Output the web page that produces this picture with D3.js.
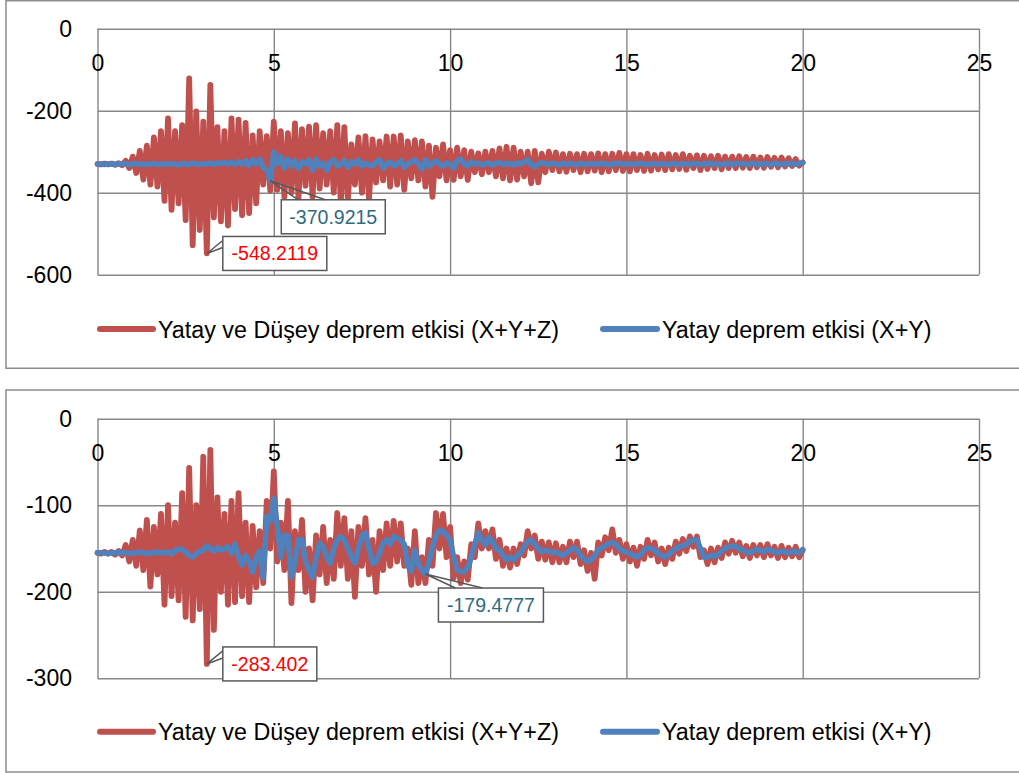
<!DOCTYPE html>
<html><head><meta charset="utf-8">
<script src="https://cdn.jsdelivr.net/npm/d3@7"></script>
<style>body{margin:0;background:#fff}svg{display:block}</style>
</head><body><svg id="c" width="1019" height="773"></svg>
<script>
// ---------- DATA ----------
const timeStep = 0.1; // seconds between samples
const xTicks = [0, 5, 10, 15, 20, 25];
const seriesNames = ["Yatay ve Düşey deprem etkisi (X+Y+Z)", "Yatay deprem etkisi (X+Y)"];
const topYTicks = [0, -200, -400, -600];
const bottomYTicks = [0, -100, -200, -300];

const topRed = [
-330,-331,-329,-331,-329,-332,-328,-333,-322,-340,
-312,-352,-298,-368,-285,-380,-265,-385,-250,-420,
-219,-442,-250,-426,-235,-467,-121,-528,-202,-491,
-227,-548.2119,-137,-460,-240,-470,-250,-480,-219,-440,
-222,-455,-230,-450,-260,-426,-250,-380,-262,-395,
-227,-393,-250,-410,-255,-400,-231,-413,-245,-383,
-239,-410,-235,-390,-255,-380,-250,-400,-235,-425,
-240,-420,-282,-380,-265,-400,-262,-417,-270,-375,
-275,-370,-263,-385,-263,-380,-260,-393,-275,-365,
-272,-370,-275,-385,-285,-410,-290,-360,-282,-370,
-296,-369,-290,-360,-296,-369,-300,-350,-304,-355,
-300,-350,-298,-360,-292,-365,-288,-370,-290,-368,
-300,-360,-300,-377,-298,-375,-305,-350,-300,-345,
-302,-348,-306,-349,-305,-345,-306,-350,-305,-348,
-306,-346,-304,-350,-306,-348,-305,-345,-303,-347,
-306,-348,-306,-345,-308,-347,-305,-346,-308,-343,
-307,-345,-306,-343,-308,-342,-306,-344,-310,-340,
-309,-345,-310,-342,-311,-340,-310,-343,-312,-340,
-312,-340,-311,-339,-313,-340,-312,-338,-314,-339,
-313,-337,-315,-338,-314,-336,-316,-335,-318,-334,
-326];

const topBlue = [
-330,-330,-331,-330,-330,-331,-330,-329,-330,-331,
-330,-329,-331,-330,-331,-330,-329,-331,-330,-330,
-331,-329,-330,-332,-329,-330,-331,-328,-330,-331,
-329,-330,-328,-331,-327,-329,-326,-330,-325,-331,
-324,-330,-322,-334,-320,-330,-318,-338,-345,-370.9215,
-300,-330,-312,-340,-318,-335,-322,-341,-325,-330,
-320,-345,-318,-335,-328,-345,-325,-320,-335,-330,
-322,-338,-325,-330,-320,-335,-328,-332,-335,-325,
-320,-340,-330,-325,-335,-330,-322,-338,-330,-325,
-320,-330,-342,-320,-335,-328,-322,-330,-335,-328,
-330,-340,-322,-318,-330,-335,-325,-330,-328,-332,
-330,-327,-333,-329,-326,-331,-330,-328,-333,-327,
-330,-325,-320,-332,-336,-330,-327,-329,-331,-328,
-330,-332,-328,-331,-329,-330,-332,-328,-330,-331,
-329,-330,-331,-328,-330,-332,-329,-330,-328,-331,
-330,-329,-331,-330,-328,-330,-332,-329,-330,-331,
-329,-330,-332,-328,-330,-331,-329,-330,-331,-328,
-330,-331,-329,-330,-328,-331,-330,-332,-329,-330,
-331,-328,-330,-329,-331,-330,-328,-332,-330,-329,
-330,-331,-328,-330,-331,-329,-330,-328,-331,-329,
-327];

const bottomRed = [
-155,-156,-154,-156,-154,-157,-153,-158,-146,-165,
-140,-170,-129,-175,-117,-194,-125,-180,-110,-215,
-100,-205,-120,-210,-86,-229,-57,-233,-100,-220,
-44,-283.402,-36,-244,-91,-200,-110,-215,-95,-212,
-86,-205,-120,-212,-124,-195,-130,-190,-95,-150,
-61,-165,-120,-175,-95,-213,-130,-175,-117,-200,
-150,-210,-135,-180,-125,-190,-140,-185,-109,-170,
-115,-185,-130,-206,-125,-170,-115,-180,-140,-200,
-130,-175,-121,-170,-118,-165,-121,-170,-150,-192,
-130,-190,-160,-190,-140,-170,-109,-150,-110,-160,
-125,-184,-160,-190,-165,-186,-145,-160,-121,-150,
-130,-150,-128,-162,-140,-170,-150,-172,-150,-168,
-145,-158,-130,-150,-135,-162,-142,-163,-143,-166,
-144,-166,-148,-166,-142,-160,-142,-168,-152,-176,
-155,-185,-143,-158,-137,-152,-128,-155,-140,-162,
-145,-165,-149,-170,-148,-162,-140,-158,-143,-165,
-150,-168,-149,-162,-142,-156,-139,-153,-136,-148,
-136,-160,-152,-168,-150,-166,-149,-161,-143,-156,
-141,-155,-143,-159,-147,-161,-146,-158,-146,-160,
-145,-158,-148,-161,-147,-160,-149,-159,-148,-160,
-152];

const bottomBlue = [
-155,-155,-155,-156,-155,-155,-154,-155,-155,-156,
-155,-155,-154,-155,-156,-155,-155,-154,-155,-155,
-154,-156,-152,-151,-151,-154,-158,-160,-156,-153,
-152,-147,-150,-153,-149,-152,-150,-148,-155,-145,
-160,-169,-158,-165,-177,-160,-153,-184,-113,-118,
-92,-125,-160,-135,-135,-183,-165,-140,-140,-165,
-175,-183,-160,-144,-148,-160,-167,-150,-140,-136,
-140,-150,-160,-167,-150,-135,-132,-150,-167,-165,
-155,-144,-140,-145,-136,-138,-140,-145,-170,-176,
-152,-168,-175,-179.4777,-165,-148,-135,-129,-130,-135,
-140,-160,-175,-177,-177,-172,-160,-145,-132,-140,
-146,-137,-142,-150,-152,-158,-163,-160,-163,-158,
-155,-148,-142,-140,-145,-150,-154,-152,-153,-155,
-154,-156,-158,-155,-152,-149,-152,-158,-162,-165,
-163,-158,-152,-149,-147,-144,-143,-145,-150,-153,
-154,-156,-158,-160,-157,-152,-149,-150,-152,-156,
-158,-160,-157,-153,-150,-148,-147,-145,-142,-140,
-140,-150,-160,-160,-158,-159,-157,-153,-150,-148,
-147,-148,-150,-152,-154,-155,-153,-151,-152,-154,
-151,-152,-154,-155,-153,-154,-155,-153,-154,-155,
-151];

// data-label callouts: which series and which sample
const topLabels = [{series: 0, index: 31, text: "-548.2119"}, {series: 1, index: 49, text: "-370.9215"}];
const bottomLabels = [{series: 0, index: 31, text: "-283.402"}, {series: 1, index: 93, text: "-179.4777"}];

// ---------- DRAWING ----------
const svg = d3.select("#c");
const FONT = "'Liberation Sans', Arial, sans-serif";
const colors = ["#C0504D", "#4F81BD"];
const strokeW = [5.8, 5.5];
const labelColors = ["#FF0000", "#2F6B7E"];
const gridColor = "#878787";
const plotLeft = 97.5, plotRight = 979;

function drawPanel(cfg) {
  const g = svg.append("g");
  g.append("rect").attr("x", cfg.frame[0]).attr("y", cfg.frame[1])
    .attr("width", cfg.frame[2]).attr("height", cfg.frame[3])
    .attr("fill", "#fff").attr("stroke", "#8c8c8c").attr("stroke-width", 1.5);

  const x = d3.scaleLinear().domain([0, 25]).range([plotLeft, plotRight]);
  const y = d3.scaleLinear().domain([0, cfg.yTicks[cfg.yTicks.length - 1]]).range([cfg.top, cfg.bottom]);

  g.append("g").attr("transform", `translate(0,${cfg.top})`)
    .call(d3.axisBottom(x).tickValues(xTicks).tickSize(cfg.bottom - cfg.top).tickFormat(""))
    .call(a => { a.select(".domain").remove(); a.selectAll("line").attr("stroke", gridColor).attr("stroke-width", 1.4); });
  g.append("g").attr("transform", `translate(${plotLeft},0)`)
    .call(d3.axisRight(y).tickValues(cfg.yTicks).tickSize(plotRight - plotLeft).tickFormat(""))
    .call(a => { a.select(".domain").remove(); a.selectAll("line").attr("stroke", gridColor).attr("stroke-width", 1.4); });

  g.append("g").attr("transform", `translate(${plotLeft},0)`)
    .call(d3.axisLeft(y).tickValues(cfg.yTicks).tickSize(0).tickPadding(25.5).tickFormat(d => String(d)))
    .call(a => { a.select(".domain").remove(); a.selectAll("text").attr("font-family", FONT).attr("font-size", 23).attr("fill", "#000"); });
  g.append("g").attr("transform", `translate(0,${cfg.top})`)
    .call(d3.axisBottom(x).tickValues(xTicks).tickSize(0).tickPadding(26).tickFormat(d => String(d)))
    .call(a => { a.select(".domain").remove(); a.selectAll("text").attr("font-family", FONT).attr("font-size", 23).attr("fill", "#000"); });

  const line = d3.line().x((d, i) => x(i * timeStep)).y(d => y(d));
  const series = [cfg.red, cfg.blue];
  series.forEach((s, k) => {
    g.append("path").datum(s).attr("d", line).attr("fill", "none")
      .attr("stroke", colors[k]).attr("stroke-width", strokeW[k])
      .attr("stroke-linejoin", "round").attr("stroke-linecap", "round");
  });

  cfg.labels.forEach((c, k) => {
    const vals = series[c.series];
    const px = x(c.index * timeStep), py = y(vals[c.index]);
    const L = cfg.labelLayout[k];
    const bx = px + L.dx, by = py + L.dy, w = L.w, h = 34;
    g.append("rect").attr("x", bx).attr("y", by).attr("width", w).attr("height", h)
      .attr("fill", "#fff").attr("stroke", "#595959").attr("stroke-width", 1.5);
    let wedge;
    if (L.side === "left") {
      wedge = `M${bx},${by + 4}L${px},${py}L${bx},${by + 11}`;
    } else {
      wedge = `M${bx + 17},${by}L${px},${py}L${bx + 44},${by}`;
    }
    g.append("path").attr("d", wedge).attr("fill", "none").attr("stroke", "#595959").attr("stroke-width", 1.5);
    g.append("text").attr("x", bx + w / 2).attr("y", by + h / 2 + 7)
      .attr("text-anchor", "middle").attr("font-family", FONT).attr("font-size", 19.5)
      .attr("fill", labelColors[c.series]).text(c.text);
  });

  const lx = [[100, 153, 158], [603, 657, 662]];
  lx.forEach((p, k) => {
    g.append("line").attr("x1", p[0]).attr("x2", p[1]).attr("y1", cfg.legendY).attr("y2", cfg.legendY)
      .attr("stroke", colors[k]).attr("stroke-width", 6).attr("stroke-linecap", "round");
    g.append("text").attr("x", p[2]).attr("y", cfg.legendY + 8.5)
      .attr("font-family", FONT).attr("font-size", 23.3).attr("fill", "#000").text(seriesNames[k]);
  });
}

drawPanel({
  frame: [6, 0.75, 1020, 367.5], top: 28.7, bottom: 274.7, yTicks: topYTicks,
  red: topRed, blue: topBlue, labels: topLabels, legendY: 329,
  labelLayout: [{side: "left", dx: 16, dy: -17, w: 104}, {side: "top", dx: 11, dy: 19, w: 104}]
});
drawPanel({
  frame: [6, 390, 1020, 382], top: 418.7, bottom: 678.3, yTicks: bottomYTicks,
  red: bottomRed, blue: bottomBlue, labels: bottomLabels, legendY: 731.7,
  labelLayout: [{side: "left", dx: 16, dy: -17, w: 94}, {side: "top", dx: 13, dy: 14, w: 105}]
});
</script></body></html>
